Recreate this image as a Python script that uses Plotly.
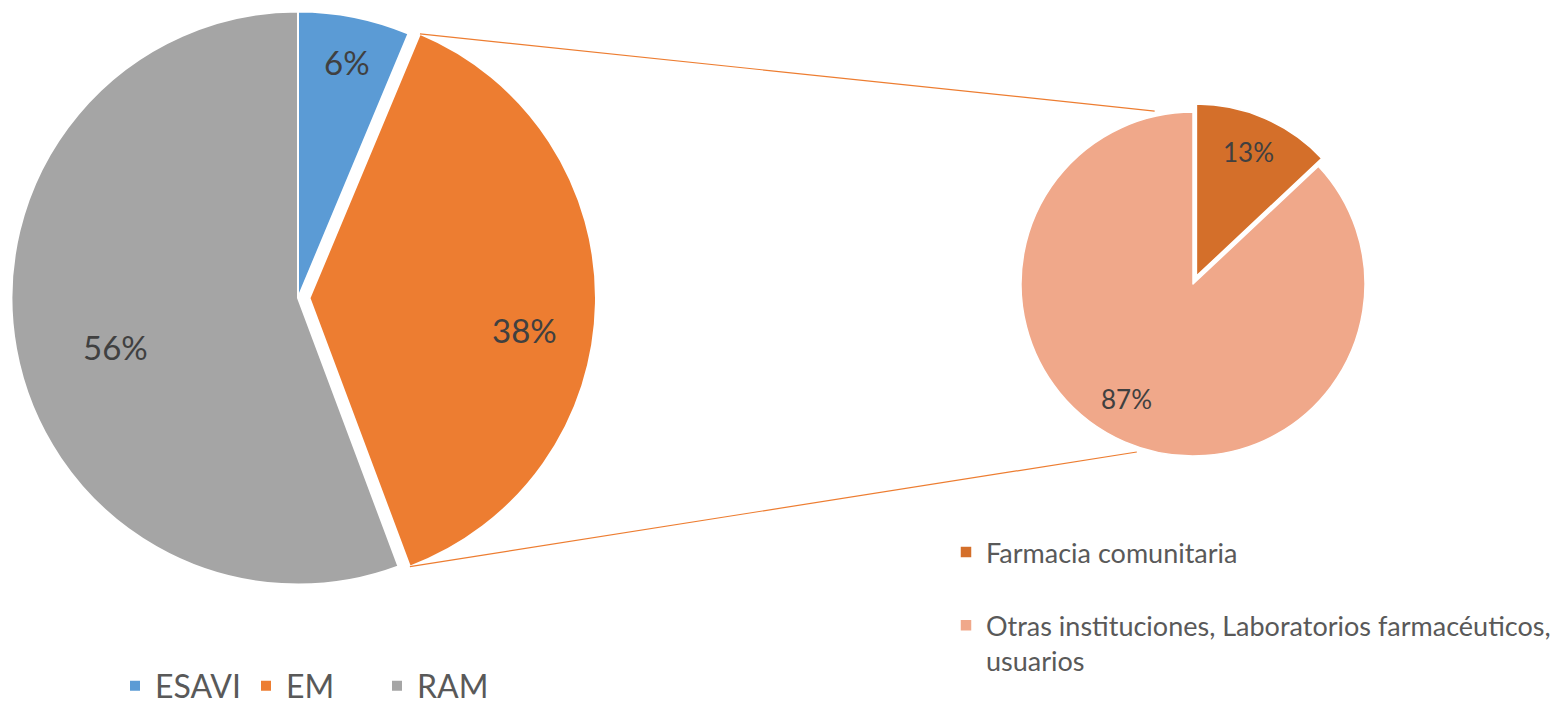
import math
import plotly.graph_objects as go

# ---------------- data ----------------
main_labels = ["ESAVI", "EM", "RAM"]
main_values = [6.3, 38.0, 55.7]
main_colors = ["#5B9BD5", "#ED7D31", "#A5A5A5"]

sub_labels = ["Farmacia comunitaria<br> ", "Otras instituciones, Laboratorios farmacéuticos,<br>usuarios"]
sub_values = [13, 87]
sub_colors = ["#D46F2A", "#F0A88A"]

# ---------------- layout constants ----------------
W, H = 1559, 706
L_CX, L_CY, L_PULL = 298, 298, 0.04
R_CX, R_CY, R_PULL = 1193, 284, 0.05
L_BOX = 596
R_R = 172
R_BOX = R_R * (2 + 2 * R_PULL)
L_R = L_BOX / (2 + 2 * L_PULL)

# data-label placement (angle clockwise from 12 o'clock, radius fraction)
main_lab_pos = [(11.8, 0.84), (98.4, 0.76), (255.0, 0.66)]
sub_lab_pos = [(22.7, 0.78), (210.0, 0.77)]


def dom(cx, cy, box):
    x0, x1 = (cx - box / 2) / W, (cx + box / 2) / W
    y0, y1 = 1 - (cy + box / 2) / H, 1 - (cy - box / 2) / H
    return dict(x=[max(0, x0), min(1, x1)], y=[max(0, y0), min(1, y1)])


def pt(cx, cy, r, ang):
    a = math.radians(ang)
    return cx + r * math.sin(a), cy - r * math.cos(a)


fig = go.Figure()
fig.add_trace(go.Pie(
    labels=main_labels, values=main_values, sort=False, direction="clockwise",
    rotation=0, pull=[0, L_PULL, 0],
    marker=dict(colors=main_colors, line=dict(color="white", width=2)),
    textinfo="none",
    domain=dom(L_CX, L_CY, L_BOX), legend="legend", hoverinfo="label+percent",
))
fig.add_trace(go.Pie(
    labels=sub_labels, values=sub_values, sort=False, direction="clockwise",
    rotation=0, pull=[R_PULL, 0],
    marker=dict(colors=sub_colors, line=dict(color="white", width=1.5)),
    textinfo="none",
    domain=dom(R_CX, R_CY, R_BOX), legend="legend2", hoverinfo="label+percent",
))


def slice_centers(values, pulls, cx, cy, r):
    tot = sum(values)
    out = []
    cum = 0
    for v, p in zip(values, pulls):
        a0 = cum / tot * 360
        cum += v
        a1 = cum / tot * 360
        mid = (a0 + a1) / 2
        ox, oy = pt(cx, cy, p * r, mid)
        out.append((ox, oy, a0, a1))
    return out


main_sl = slice_centers(main_values, [0, L_PULL, 0], L_CX, L_CY, L_R)
sub_sl = slice_centers(sub_values, [R_PULL, 0], R_CX, R_CY, R_R)

tot_m = sum(main_values)
for (ox, oy, a0, a1), v, (ang, rf) in zip(main_sl, main_values, main_lab_pos):
    x, y = pt(ox, oy, rf * L_R, ang)
    fig.add_annotation(x=x / W, y=1 - y / H, xref="paper", yref="paper",
                       xanchor="center", yanchor="middle",
                       text=f"{round(v / tot_m * 100)}%", showarrow=False,
                       font=dict(family="Lato", size=33, color="#404040"))
tot_s = sum(sub_values)
for (ox, oy, a0, a1), v, (ang, rf) in zip(sub_sl, sub_values, sub_lab_pos):
    x, y = pt(ox, oy, rf * R_R, ang)
    fig.add_annotation(x=x / W, y=1 - y / H, xref="paper", yref="paper",
                       xanchor="center", yanchor="middle",
                       text=f"{round(v / tot_s * 100)}%", showarrow=False,
                       font=dict(family="Lato", size=26, color="#404040"))

# connector lines from the pulled EM slice to the secondary pie
ocx, ocy, a1, a2 = main_sl[1]
p_top = pt(ocx, ocy, L_R, a1)
p_bot = pt(ocx, ocy, L_R, a2)
q_top = pt(R_CX, R_CY, R_R * 1.03, -12.5)
q_bot = pt(R_CX, R_CY, R_R * 1.03, 198.5)

for p, q in [(p_top, q_top), (p_bot, q_bot)]:
    fig.add_shape(type="line", xref="paper", yref="paper",
                  x0=p[0] / W, y0=1 - p[1] / H, x1=q[0] / W, y1=1 - q[1] / H,
                  line=dict(color="#ED7D31", width=1.2))

fig.update_layout(
    width=W, height=H,
    margin=dict(l=0, r=0, t=0, b=0, autoexpand=False),
    paper_bgcolor="white", plot_bgcolor="white",
    legend=dict(orientation="h", xref="container", yref="container",
                x=115 / W, xanchor="left", y=1 - 686 / H, yanchor="middle",
                entrywidth=86, entrywidthmode="pixels",
                font=dict(family="Lato", size=32, color="#595959"),
                bgcolor="rgba(0,0,0,0)"),
    legend2=dict(orientation="v", xref="container", yref="container",
                 x=946 / W, xanchor="left", y=1 - 528 / H, yanchor="top",
                 font=dict(family="Lato", size=27, color="#595959"), valign="top",
                 bgcolor="rgba(0,0,0,0)"),
)

fig.write_html("out.html", config={"displayModeBar": False},
               post_script="document.body.style.margin='0';")
